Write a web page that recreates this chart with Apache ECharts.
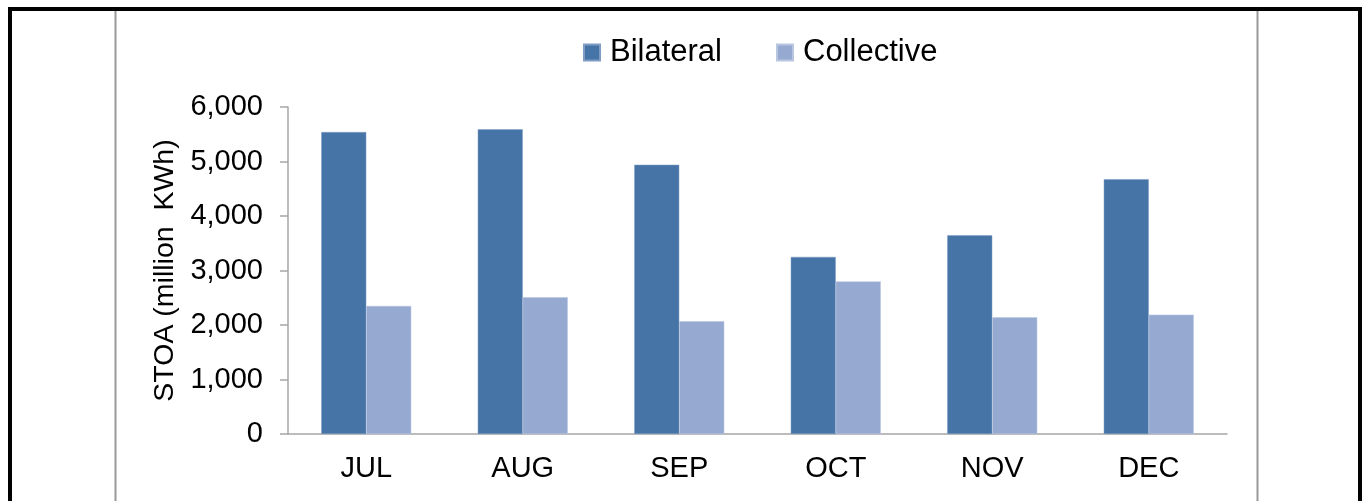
<!DOCTYPE html>
<html>
<head>
<meta charset="utf-8">
<script src="https://cdn.jsdelivr.net/npm/echarts@6/dist/echarts.min.js"></script>
<style>
html,body{margin:0;padding:0;background:#fff;}
#c{width:1362px;height:501px;}
</style>
</head>
<body>
<div id="c"></div>
<script>
const categories = ['JUL', 'AUG', 'SEP', 'OCT', 'NOV', 'DEC'];
const bilateral = [5540, 5590, 4940, 3250, 3645, 4675];
const collective = [2350, 2510, 2070, 2800, 2140, 2190];
const yTicks = { min: 0, max: 6000, interval: 1000 };

const FONT = '"Liberation Sans", Arial, sans-serif';
const chart = echarts.init(document.getElementById('c'), null, { renderer: 'canvas' });
const gray = '#a6a6a6';
chart.setOption({
  animation: false,
  backgroundColor: '#fff',
  textStyle: { fontFamily: FONT },
  graphic: [
    { type: 'rect', shape: { x: 10, y: 9, width: 1350, height: 520 }, style: { fill: 'none', stroke: '#000', lineWidth: 4 }, z: 100 },
    { type: 'line', shape: { x1: 115.5, y1: 11, x2: 115.5, y2: 501 }, style: { stroke: '#999', lineWidth: 2 }, z: 100 },
    { type: 'line', shape: { x1: 1257.5, y1: 11, x2: 1257.5, y2: 501 }, style: { stroke: '#999', lineWidth: 2 }, z: 100 }
  ],
  legend: {
    left: 578, top: 32,
    itemWidth: 16, itemHeight: 16, itemGap: 54,
    icon: 'rect',
    textStyle: { fontSize: 31, color: '#000', fontFamily: FONT, padding: [0, 0, 0, 5] },
    data: ['Bilateral', 'Collective']
  },
  grid: { left: 288, right: 135, top: 107, bottom: 67, containLabel: false },
  xAxis: {
    type: 'category',
    data: categories,
    axisLine: { lineStyle: { color: gray, width: 1.5 } },
    axisTick: { length: 8, lineStyle: { color: gray, width: 1.5 } },
    axisLabel: { fontSize: 29, color: '#000', margin: 20, fontFamily: FONT }
  },
  yAxis: {
    type: 'value',
    min: yTicks.min, max: yTicks.max, interval: yTicks.interval,
    name: 'STOA (million  KWh)',
    nameLocation: 'middle',
    nameGap: 106,
    nameRotate: 90,
    nameTextStyle: { fontSize: 28.5, color: '#000', fontFamily: FONT },
    axisLine: { show: true, lineStyle: { color: gray, width: 1.5 } },
    axisTick: { show: true, length: 8, lineStyle: { color: gray, width: 1.5 } },
    splitLine: { show: false },
    axisLabel: {
      fontSize: 29, color: '#000', margin: 25, fontFamily: FONT,
      formatter: v => v.toLocaleString('en-US')
    }
  },
  series: [
    { name: 'Bilateral', type: 'bar', data: bilateral, barWidth: 45, barGap: '0%',
      itemStyle: { color: '#4674A7', borderColor: '#7f9cc4', borderWidth: 0.5 } },
    { name: 'Collective', type: 'bar', data: collective, barWidth: 45,
      itemStyle: { color: '#96AAD1', borderColor: '#b9c6e0', borderWidth: 0.5 } }
  ]
});
</script>
</body>
</html>
